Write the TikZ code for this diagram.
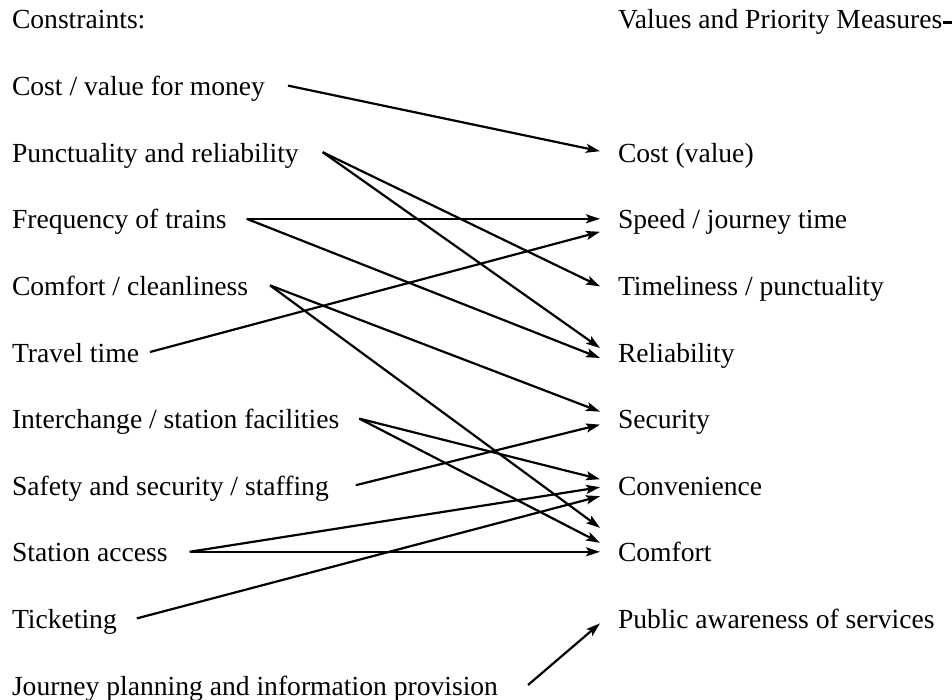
\documentclass[tikz,border=0pt]{standalone}
\usepackage{fontspec}
\setmainfont{Liberation Serif}
\usetikzlibrary{arrows.meta, calc}

\begin{document}
\begin{tikzpicture}[
  x=0.5pt, y=-0.5pt,
  every node/.style={inner sep=0pt, outer sep=0pt, anchor=base west,
    font=\fontsize{13.8}{16}\selectfont},
  link/.style={draw, line width=1.1pt,
    -{Stealth[length=7pt, width=4.5pt, inset=1.5pt]}}
]
\useasboundingbox (0,0) rectangle (952,700);

% left column: constraints
\node (hdl) at (12,29) {Constraints:};
\foreach \name/\txt/\gap [count=\i] in {
    cvm/{Cost / value for money}/23,
    punct/{Punctuality and reliability}/24,
    freq/{Frequency of trains}/20,
    comfc/{Comfort / cleanliness}/22,
    travel/{Travel time}/11,
    inter/{Interchange / station facilities}/20,
    safety/{Safety and security / staffing}/27,
    access/{Station access}/22,
    ticket/{Ticketing}/20,
    journey/{Journey planning and information provision}/30}
{
  \node (\name) at (12,{29+66.6*\i}) {\txt};
  \coordinate (\name-o) at ($(\name.base east)+(\gap,-10)$);
}

% right column: values and priority measures
\node (hdr) at (618,29) {Values and Priority Measures};
\draw[line width=1.5pt] ($(hdr.base east)+(1,-6)$) -- +(14,0);
\foreach \name/\txt/\row in {
    cost/{Cost (value)}/2,
    speed/{Speed / journey time}/3,
    timely/{Timeliness / punctuality}/4,
    reliab/{Reliability}/5,
    secur/{Security}/6,
    conv/{Convenience}/7,
    comfort/{Comfort}/8,
    public/{Public awareness of services}/9}
  \node (\name) at (618,{29+66.6*\row}) {\txt};

% links
\foreach \from/\to/\dy in {
    cvm/cost/-11, punct/timely/-9, punct/reliab/-14,
    freq/speed/-10, freq/reliab/-4,
    comfc/secur/-17, comfc/comfort/-34,
    travel/speed/3,
    inter/conv/-16, inter/comfort/-19,
    safety/secur/-4,
    access/conv/-8, access/comfort/-10,
    ticket/conv/1,
    journey/public/-5}
  \draw[link] (\from-o) -- ($(\to.base west)+(-18,\dy)$);

\end{tikzpicture}
\end{document}
